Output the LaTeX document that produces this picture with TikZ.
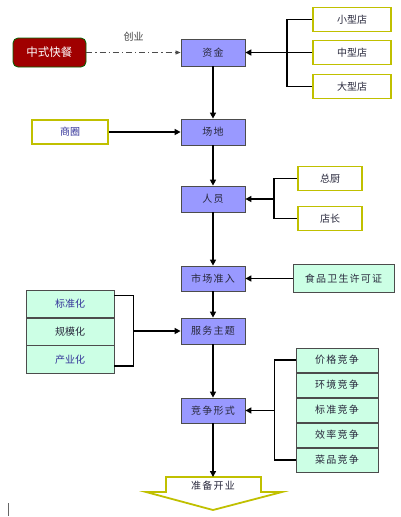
\documentclass[tikz,border=0pt]{standalone}
\usepackage{fontspec}
\setmainfont{Noto Sans CJK SC}
\usetikzlibrary{arrows.meta,positioning}
\definecolor{bluebox}{RGB}{153,153,255}
\definecolor{olive}{RGB}{192,192,0}
\definecolor{mint}{RGB}{204,255,229}
\definecolor{darkred}{RGB}{160,0,0}
\definecolor{txtblue}{RGB}{51,51,153}
\definecolor{txtdark}{RGB}{40,40,60}
\newcommand{\gapx}{\hspace{1.2pt}}
\tikzset{
  every node/.style={inner sep=0pt, font=\fontsize{10}{12}\selectfont},
  bluebox/.style={draw=black!70, fill=bluebox, line width=0.8pt, minimum width=64pt, minimum height=26pt, text=txtdark},
  yelbox/.style={draw=olive, fill=white, line width=1.8pt, text=txtdark},
  mintbox/.style={draw=black!70, fill=mint, line width=0.8pt, text=txtdark},
  conn/.style={line width=1.6pt, draw=black},
  arr/.style={conn, -{Triangle[length=6pt,width=6pt]}},
}
\begin{document}
\begin{tikzpicture}[x=1pt,y=-1pt]
\useasboundingbox (0,0) rectangle (400,517);
% main column
\node[draw=green!40!black, fill=darkred, rounded corners=5pt, line width=0.8pt, minimum width=73pt, minimum height=29pt, text=white, font=\fontsize{11.5}{13}\selectfont] (kc) at (49.5,52.5) {中式快餐};
\node[bluebox, minimum height=27pt] (zj) at (213,52.5) {资\gapx 金};
\node[bluebox] (cd) at (213,132) {场\gapx 地};
\node[bluebox] (ry) at (213,199) {人\gapx 员};
\node[bluebox, minimum height=25pt] (sc) at (213,278.5) {市\gapx 场\gapx 准\gapx 入};
\node[bluebox] (fw) at (213,331) {服\gapx 务\gapx 主\gapx 题};
\node[bluebox, minimum height=25pt] (jz) at (213,410.5) {竞\gapx 争\gapx 形\gapx 式};
% right yellow boxes
\node[yelbox, minimum width=78pt, minimum height=24pt] (xx) at (352,19.5) {小型店};
\node[yelbox, minimum width=78pt, minimum height=24pt] (zx) at (352,52.5) {中型店};
\node[yelbox, minimum width=78pt, minimum height=24pt] (dx) at (352,86.5) {大型店};
\node[yelbox, minimum width=76pt, minimum height=24pt, text=txtblue] (sq) at (70,132) {商圈};
\node[yelbox, minimum width=64pt, minimum height=24pt] (zc) at (330,178.5) {总厨};
\node[yelbox, minimum width=64pt, minimum height=24pt] (dz) at (330,218.5) {店长};
% permit
\node[mintbox, minimum width=101pt, minimum height=28pt] (sp) at (343.5,278.5) {食\gapx 品\gapx 卫\gapx 生\gapx 许\gapx 可\gapx 证};
% left stack
\node[mintbox, minimum width=88pt, minimum height=26.5pt, text=txtblue] (bz) at (70,304) {标准化};
\node[mintbox, minimum width=88pt, minimum height=27pt, anchor=north] (gm) at (bz.south) {规模化};
\node[mintbox, minimum width=88pt, minimum height=28pt, anchor=north, text=txtblue] (cy) at (gm.south) {产业化};
% right stack
\node[mintbox, minimum width=82pt, minimum height=24.2pt] (r1) at (337,360.1) {价\gapx 格\gapx 竞\gapx 争};
\node[mintbox, minimum width=82pt, minimum height=24.2pt, anchor=north] (r2) at (r1.south) {环\gapx 境\gapx 竞\gapx 争};
\node[mintbox, minimum width=82pt, minimum height=24.2pt, anchor=north] (r3) at (r2.south) {标\gapx 准\gapx 竞\gapx 争};
\node[mintbox, minimum width=82pt, minimum height=24.2pt, anchor=north] (r4) at (r3.south) {效\gapx 率\gapx 竞\gapx 争};
\node[mintbox, minimum width=82pt, minimum height=24.2pt, anchor=north] (r5) at (r4.south) {菜\gapx 品\gapx 竞\gapx 争};
% final arrow shape
\coordinate (kytop) at (213,477);
\draw[draw=olive, fill=white, line width=1.8pt] (166,477) -- (261,477) -- (261,492) -- (282,492) -- (213,510) -- (146,492) -- (166,492) -- cycle;
\node[text=txtdark] (ky) at (213,486) {准\gapx 备\gapx 开\gapx 业};
% connectors main column
\draw[draw=black!70, line width=0.7pt, dash pattern=on 6pt off 3pt on 1.2pt off 3pt, -{Triangle[length=5pt,width=4pt]}] (kc.east) -- node[above=11pt, text=black!75] (cyl) {创业} (zj.west);
\draw[arr] (zj.south) -- (cd.north);
\draw[arr] (cd.south) -- (ry.north);
\draw[arr] (ry.south) -- (sc.north);
\draw[arr] (sc.south) -- (fw.north);
\draw[arr] (fw.south) -- (jz.north);
\draw[arr] (jz.south) -- (kytop);
% store bracket
\draw[conn] (xx.west) -- ++(-25,0) |- (dx.west);
\draw[arr] (zx.west) -- (zj.east);
\draw[arr] (sq.east) -- (cd.west);
% staff bracket
\draw[conn] (zc.west) -- ++(-23,0) coordinate (sb1) |- (dz.west);
\draw[arr] (sb1 |- ry.east) -- (ry.east);
% permit
\draw[arr] (sp.west) -- (sc.east);
% left bracket
\coordinate (lb1) at ([yshift=-5pt]bz.north east);
\coordinate (lb2) at ([yshift=8pt]cy.south east);
\draw[conn] (lb1) -- ++(19,0) coordinate (lbx) -- (lbx |- lb2) -- (lb2);
\draw[arr] (lbx |- fw.west) -- (fw.west);
% right bracket
\draw[conn] (r1.west) -- ++(-21,0) coordinate (rb1) |- (r5.west);
\draw[arr] (rb1 |- jz.east) -- (jz.east);
% artifact line
\draw[black!60, line width=0.8pt] (8,503) -- (8,516);
\end{tikzpicture}
\end{document}
